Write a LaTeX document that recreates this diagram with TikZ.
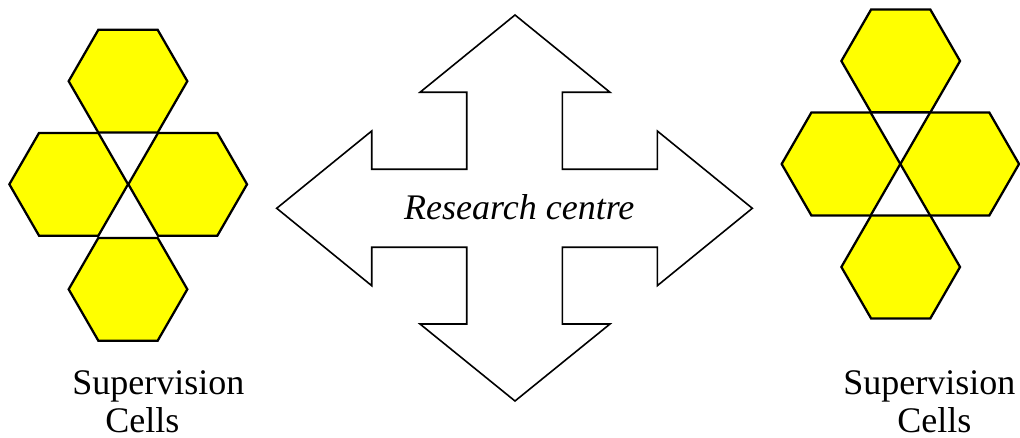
\documentclass[tikz,border=0pt]{standalone}
\usepackage{fontspec}
\setmainfont{Liberation Serif}
\usepackage{xcolor}
\usepackage{tikz}
\usetikzlibrary{shapes.geometric}
\definecolor{cellyellow}{RGB}{255,255,0}

\begin{document}
\begin{tikzpicture}[
    x=0.75pt, y=-0.75pt,
    hexcell/.style={regular polygon, regular polygon sides=6, minimum size=89pt, inner sep=0pt,
        draw=black, line width=1.7pt, fill=cellyellow},
    cellnote/.style={font=\fontsize{27}{28.5}\selectfont, align=left, inner sep=0pt, anchor=base west},
]
\useasboundingbox (0,0) rectangle (1020,438);

% left supervision cells
\foreach \n/\x/\y in {top/128/81.2, left/68.7/184.3, right/187.7/184.3, bot/128/289.3} {
    \node[hexcell] (L\n) at (\x,\y) {};
}
\node[cellnote] (Lnote) at (72,432) {Supervision\\\hspace*{24.75pt}Cells};

% right supervision cells
\foreach \n/\x/\y in {top/900.7/61, left/841/164, right/959.7/164, bot/900.7/267} {
    \node[hexcell] (R\n) at (\x,\y) {};
}
\node[cellnote] (Rnote) at (843,432) {Supervision\\\hspace*{40.5pt}Cells};

% research centre
\draw[line width=1.2pt, fill=white] (515,15) -- (610,92.3) -- (562.3,92.3) -- (562.3,169.3)
    -- (657.3,169.3) -- (657.3,131) -- (752.3,208.3) -- (657.3,285.7) -- (657.3,247.3)
    -- (562.3,247.3) -- (562.3,324) -- (610,324) -- (515,401) -- (420,324) -- (466.7,324)
    -- (466.7,247.3) -- (371.7,247.3) -- (371.7,285.7) -- (276.7,208.3) -- (371.7,131)
    -- (371.7,169.3) -- (466.7,169.3) -- (466.7,92.3) -- (420,92.3) -- cycle;
\node[font=\fontsize{27}{30}\selectfont\itshape, inner sep=0pt, anchor=base] (centre) at (519.3,220) {Research centre};
\end{tikzpicture}
\end{document}
